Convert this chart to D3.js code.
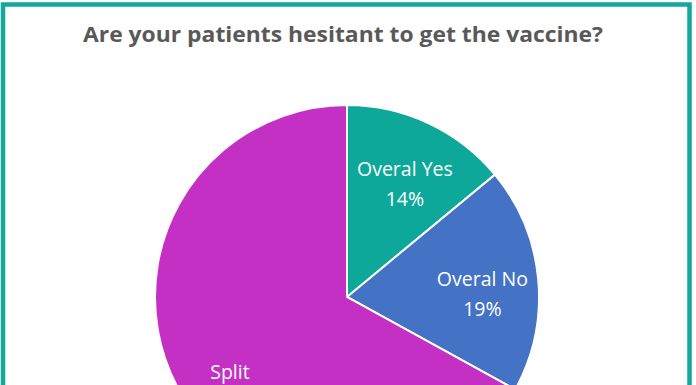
<!DOCTYPE html>
<html>
<head>
<meta charset="utf-8">
<script src="https://cdn.jsdelivr.net/npm/d3@7"></script>
<style>
  body { margin: 0; background: #fff; }
  svg { display: block; }
</style>
</head>
<body>
<div class="vis-container"></div>
<script>
const categories = ['Overal Yes', 'Overal No', 'Split'];
const values = [14, 19, 67];
const colors = ['#0ea89b', '#4472c4', '#c42fc4'];
const title = 'Are your patients hesitant to get the vaccine?';

document.addEventListener('DOMContentLoaded', () => {
  buildPie();
});

function buildPie() {
  const width = 696;
  const height = 385;
  const radius = 192;
  const cx = 347;
  const cy = 297;

  const svg = d3.select('.vis-container').append('svg')
    .attr('width', width)
    .attr('height', height);

  // frame
  svg.append('rect')
    .attr('x', 3)
    .attr('y', 4.5)
    .attr('width', 686.5)
    .attr('height', 420)
    .attr('fill', 'none')
    .attr('stroke', '#12a89b')
    .attr('stroke-width', 4.5);

  svg.append('text')
    .attr('x', 343)
    .attr('y', 42)
    .attr('text-anchor', 'middle')
    .attr('font-family', 'Open Sans, sans-serif')
    .attr('font-weight', 'bold')
    .attr('font-size', 22)
    .attr('fill', '#595959')
    .attr('textLength', 520)
    .attr('lengthAdjust', 'spacingAndGlyphs')
    .text(title);

  const data = categories.map((c, i) => ({name: c, value: values[i], color: colors[i]}));
  const pie = d3.pie().sort(null).value(d => d.value);
  const arc = d3.arc().innerRadius(0).outerRadius(radius);
  const labelArc = d3.arc().innerRadius(136).outerRadius(136);

  const g = svg.append('g')
    .attr('transform', `translate(${cx}, ${cy})`);

  const slices = pie(data);

  g.selectAll('.slice').data(slices)
    .enter().append('path')
      .attr('class', 'slice')
      .attr('d', arc)
      .attr('fill', d => d.data.color)
      .attr('stroke', '#fff')
      .attr('stroke-width', 2);

  // labels in the lower half sit a little further out, like the best-fit layout
  const labels = g.selectAll('.label').data(slices)
    .enter().append('text')
      .attr('class', 'label')
      .attr('transform', d => {
        const [x, y] = labelArc.centroid(d);
        return `translate(${x}, ${y + 10 + Math.max(0, y) * 0.15})`;
      })
      .attr('text-anchor', 'middle')
      .attr('font-family', 'Open Sans, sans-serif')
      .attr('font-size', 19.5)
      .attr('fill', '#fff');
  labels.append('tspan')
    .attr('x', 0)
    .attr('dy', -8)
    .text(d => d.data.name);
  labels.append('tspan')
    .attr('x', 0)
    .attr('dy', 30)
    .text(d => d.data.value + '%');
}
</script>
</body>
</html>
